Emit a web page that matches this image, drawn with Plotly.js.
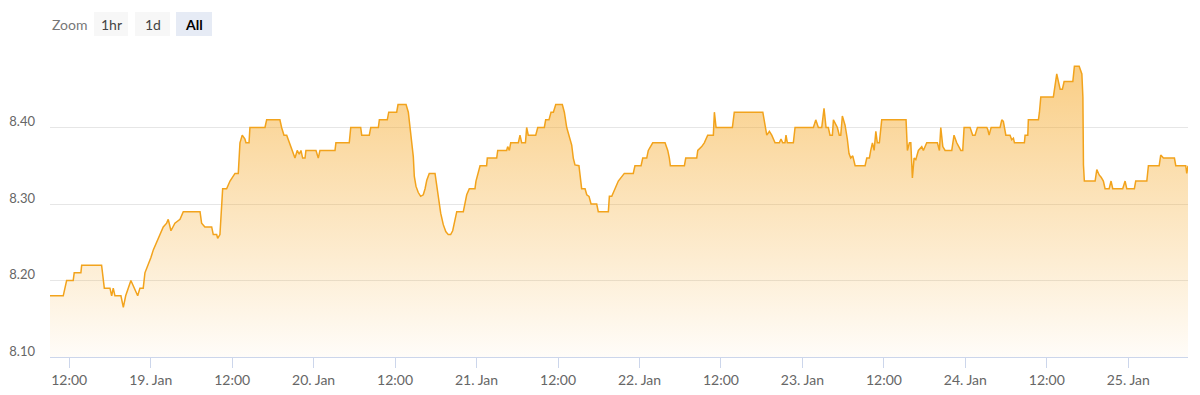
<!DOCTYPE html>
<html>
<head>
<meta charset="utf-8">
<script src="https://cdn.plot.ly/plotly-3.0.1.min.js"></script>
<style>
  html, body { margin: 0; padding: 0; background: #ffffff; }
  #chart { width: 1200px; height: 395px; }
</style>
</head>
<body>
<div id="chart"></div>
<script>
// ---- data (time in hours after 18 Jan 2024 00:00, price) ----
const baseDay = '2024-01-18';
const hoursFromJan18 = [
  9.16, 11.12, 11.62, 12.59, 12.74, 13.72, 13.83, 16.77, 17.16, 18.0, 18.25, 18.48, 18.73, 19.62, 19.96, 20.31,
  21.09, 22.08, 22.42, 22.9, 23.15, 23.64, 24.04, 24.38, 24.88, 25.36, 25.85, 26.35, 26.59, 26.98, 27.57, 28.31,
  28.8, 31.26, 31.5, 31.99, 32.98, 33.22, 33.72, 33.86, 34.2, 34.6, 35.19, 35.68, 36.41, 36.9, 37.15, 37.49,
  37.89, 38.03, 38.48, 38.62, 40.83, 41.08, 43.04, 43.29, 43.63, 44.03, 44.27, 44.77, 45.25, 45.59, 45.89, 46.14,
  46.39, 46.73, 46.87, 48.35, 48.69, 48.94, 51.15, 51.29, 53.25, 53.46, 54.93, 55.08, 56.2, 56.41, 57.53, 57.68,
  58.85, 59.06, 60.24, 60.43, 61.61, 61.95, 62.2, 62.45, 62.68, 62.83, 63.08, 63.42, 63.77, 64.15, 64.41, 64.66,
  65.04, 65.88, 66.13, 66.37, 66.72, 67.1, 67.46, 67.84, 68.19, 68.49, 68.83, 69.08, 70.05, 70.3, 70.55, 70.93,
  71.77, 71.92, 72.51, 73.49, 73.58, 74.97, 75.12, 76.44, 76.59, 76.83, 77.03, 78.15, 78.4, 78.65, 79.2, 79.39,
  79.62, 80.71, 81.01, 81.98, 82.19, 82.67, 82.97, 83.31, 83.66, 84.63, 84.93, 85.28, 85.62, 86.02, 86.25, 86.5,
  87.09, 87.24, 87.49, 87.98, 88.23, 88.57, 88.86, 89.7, 89.94, 91.41, 91.56, 91.91, 92.4, 92.88, 93.77, 95.09,
  95.34, 96.23, 96.48, 97.07, 97.3, 97.95, 99.76, 100.16, 100.4, 100.55, 102.61, 102.81, 104.43, 104.58, 105.17, 105.55,
  106.05, 106.88, 107.03, 107.28, 109.68, 109.97, 114.16, 114.5, 114.75, 115.13, 115.48, 115.97, 116.6, 116.85, 117.1, 117.44,
  117.59, 117.78, 118.67, 118.92, 121.61, 121.97, 122.35, 122.85, 123.19, 123.49, 123.82, 124.07, 124.41, 124.56, 124.96, 125.15,
  125.44, 125.65, 125.89, 126.28, 126.62, 126.87, 127.12, 127.42, 127.76, 129.23, 129.48, 129.86, 130.07, 130.31, 130.56, 130.81,
  131.04, 131.34, 131.69, 135.27, 135.46, 135.76, 135.96, 136.2, 136.45, 136.7, 137.08, 137.58, 137.82, 138.32, 139.88, 140.18,
  140.38, 140.68, 141.02, 142.0, 142.34, 142.74, 143.33, 143.62, 143.81, 144.7, 145.09, 145.44, 145.78, 147.16, 147.31, 147.5,
  147.8, 149.12, 149.37, 149.6, 149.96, 150.59, 150.84, 151.08, 151.23, 152.7, 152.8, 153.2, 153.29, 154.76, 154.91, 155.12,
  156.97, 157.22, 157.47, 157.71, 157.96, 158.3, 158.55, 159.83, 160.07, 160.76, 161.16, 161.31, 161.4, 161.54, 163.12, 163.37,
  163.71, 164.0, 164.34, 164.59, 165.18, 165.47, 165.72, 167.19, 167.53, 167.78, 168.9, 169.1, 170.73, 170.97, 172.55, 172.79,
  173.18, 174.8, 175.0, 176.47, 176.62, 176.8
];
const price = [
  8.18, 8.18, 8.20, 8.20, 8.21, 8.21, 8.22, 8.22, 8.19, 8.19, 8.18, 8.19, 8.18, 8.18, 8.165, 8.18,
  8.20, 8.18, 8.19, 8.19, 8.21, 8.22, 8.23, 8.24, 8.25, 8.26, 8.27, 8.275, 8.28, 8.265, 8.275, 8.28,
  8.29, 8.29, 8.275, 8.27, 8.27, 8.26, 8.26, 8.255, 8.26, 8.32, 8.32, 8.33, 8.34, 8.34, 8.38, 8.39,
  8.385, 8.38, 8.38, 8.40, 8.40, 8.41, 8.41, 8.40, 8.39, 8.39, 8.384, 8.373, 8.36, 8.37, 8.365, 8.37,
  8.36, 8.36, 8.37, 8.37, 8.36, 8.37, 8.37, 8.38, 8.38, 8.40, 8.40, 8.39, 8.39, 8.40, 8.40, 8.41,
  8.41, 8.42, 8.42, 8.43, 8.43, 8.42, 8.40, 8.38, 8.362, 8.336, 8.323, 8.315, 8.31, 8.312, 8.32, 8.331,
  8.34, 8.34, 8.323, 8.307, 8.288, 8.273, 8.264, 8.26, 8.26, 8.265, 8.279, 8.29, 8.29, 8.30, 8.312, 8.32,
  8.32, 8.33, 8.35, 8.35, 8.36, 8.36, 8.37, 8.37, 8.375, 8.37, 8.38, 8.38, 8.39, 8.38, 8.38, 8.40,
  8.39, 8.39, 8.40, 8.40, 8.41, 8.41, 8.42, 8.42, 8.43, 8.43, 8.42, 8.40, 8.39, 8.377, 8.36, 8.351,
  8.35, 8.336, 8.32, 8.32, 8.312, 8.31, 8.30, 8.30, 8.29, 8.29, 8.31, 8.31, 8.32, 8.33, 8.34, 8.34,
  8.35, 8.35, 8.36, 8.36, 8.37, 8.38, 8.38, 8.37, 8.36, 8.35, 8.35, 8.36, 8.36, 8.37, 8.375, 8.38,
  8.39, 8.39, 8.42, 8.40, 8.40, 8.42, 8.42, 8.40, 8.39, 8.395, 8.39, 8.38, 8.38, 8.385, 8.38, 8.38,
  8.39, 8.38, 8.38, 8.40, 8.40, 8.41, 8.40, 8.40, 8.425, 8.40, 8.40, 8.39, 8.39, 8.41, 8.403, 8.40,
  8.39, 8.39, 8.415, 8.403, 8.385, 8.366, 8.36, 8.363, 8.35, 8.35, 8.36, 8.36, 8.37, 8.38, 8.37, 8.395,
  8.38, 8.38, 8.41, 8.41, 8.37, 8.38, 8.38, 8.334, 8.36, 8.358, 8.37, 8.375, 8.37, 8.38, 8.38, 8.37,
  8.40, 8.375, 8.37, 8.37, 8.39, 8.38, 8.37, 8.37, 8.40, 8.40, 8.39, 8.39, 8.40, 8.40, 8.397, 8.39,
  8.40, 8.40, 8.41, 8.408, 8.39, 8.39, 8.384, 8.386, 8.38, 8.38, 8.39, 8.39, 8.41, 8.41, 8.42, 8.44,
  8.44, 8.453, 8.47, 8.46, 8.45, 8.45, 8.46, 8.46, 8.48, 8.48, 8.47, 8.44, 8.351, 8.33, 8.33, 8.345,
  8.338, 8.335, 8.33, 8.32, 8.32, 8.33, 8.32, 8.32, 8.33, 8.32, 8.32, 8.33, 8.33, 8.35, 8.35, 8.364,
  8.36, 8.36, 8.35, 8.35, 8.34, 8.35
];
const tickVals = ['2024-01-18 12:00','2024-01-19 00:00','2024-01-19 12:00','2024-01-20 00:00','2024-01-20 12:00',
  '2024-01-21 00:00','2024-01-21 12:00','2024-01-22 00:00','2024-01-22 12:00','2024-01-23 00:00','2024-01-23 12:00',
  '2024-01-24 00:00','2024-01-24 12:00','2024-01-25 00:00'];
const tickText = ['12:00','19. Jan','12:00','20. Jan','12:00','21. Jan','12:00','22. Jan','12:00','23. Jan','12:00','24. Jan','12:00','25. Jan'];
const yTickVals = [8.10, 8.20, 8.30, 8.40, 8.50];
const yTickText = ['8.10', '8.20', '8.30', '8.40', ''];
const zoomLabels = ['1hr', '1d', 'All'];

// ---- build timestamps ----
const base = Date.parse(baseDay + 'T00:00:00Z');
function pad(n) { return (n < 10 ? '0' : '') + n; }
function toStamp(h) {
  const d = new Date(base + Math.round(h * 60) * 60000);
  return d.getUTCFullYear() + '-' + pad(d.getUTCMonth() + 1) + '-' + pad(d.getUTCDate()) + ' ' +
    pad(d.getUTCHours()) + ':' + pad(d.getUTCMinutes()) + ':00';
}
const times = hoursFromJan18.map(toStamp);

const lineColor = '#f2a31c';
const FONT = 'Lato, "Open Sans", sans-serif';

const trace = {
  type: 'scatter', mode: 'lines', x: times, y: price,
  line: { color: lineColor, width: 1.5 },
  fill: 'tozeroy',
  fillgradient: {
    type: 'vertical', start: 8.10, stop: 8.50,
    colorscale: [[0, 'rgba(245,166,35,0.03)'], [1, 'rgba(245,166,35,0.58)']]
  },
  hoverinfo: 'x+y'
};

// plot area in pixels: left 50, right 1188, top 51, bottom 357
const L = 50, R = 1188, T = 51, B = 357;
const px = p => (p - L) / (R - L);
const py = p => (B - p) / (B - T);

const btnX = [[94, 128], [135, 170], [176, 212]];
const shapes = btnX.map((b, i) => ({
  type: 'rect', xref: 'paper', yref: 'paper', layer: 'above',
  x0: px(b[0]), x1: px(b[1]), y0: py(36), y1: py(12),
  fillcolor: i === 2 ? '#e6ebf5' : '#f7f7f7', line: { width: 0 }
}));
const annotations = [{
  xref: 'paper', yref: 'paper', x: px(50), y: py(24), xanchor: 'left', yanchor: 'middle',
  text: 'Zoom', showarrow: false, font: { family: FONT, size: 14, color: '#777777' }
}].concat(zoomLabels.map((t, i) => ({
  xref: 'paper', yref: 'paper', x: px((btnX[i][0] + btnX[i][1]) / 2), y: py(24),
  xanchor: 'center', yanchor: 'middle', showarrow: false,
  text: i === 2 ? '<b>' + t + '</b>' : t,
  font: { family: FONT, size: 14, color: i === 2 ? '#000000' : '#444444' }
})));

const layout = {
  width: 1200, height: 395,
  margin: { l: L, r: 1200 - R, t: T, b: 395 - B, pad: 0 },
  paper_bgcolor: '#ffffff', plot_bgcolor: '#ffffff',
  showlegend: false,
  font: { family: FONT, color: '#666666' },
  xaxis: {
    type: 'date', autorange: true,
    tickmode: 'array', tickvals: tickVals, ticktext: tickText,
    showgrid: false, zeroline: false,
    showline: true, linecolor: '#ccd6eb', linewidth: 1,
    ticks: 'outside', ticklen: 10, tickcolor: '#ccd6eb', tickwidth: 1,
    tickfont: { family: FONT, size: 14, color: '#666666' },
    ticklabelstandoff: 0
  },
  yaxis: {
    range: [8.10, 8.50],
    tickmode: 'array', tickvals: yTickVals, ticktext: yTickText,
    showgrid: true, gridcolor: '#e6e6e6', gridwidth: 1,
    zeroline: false, showline: false, ticks: '',
    tickfont: { family: FONT, size: 13, color: '#666666' },
    ticklabelstandoff: 14, ticklabelshift: -6
  },
  shapes: shapes,
  annotations: annotations
};

Plotly.newPlot('chart', [trace], layout, { displayModeBar: false, staticPlot: true });
</script>
</body>
</html>
